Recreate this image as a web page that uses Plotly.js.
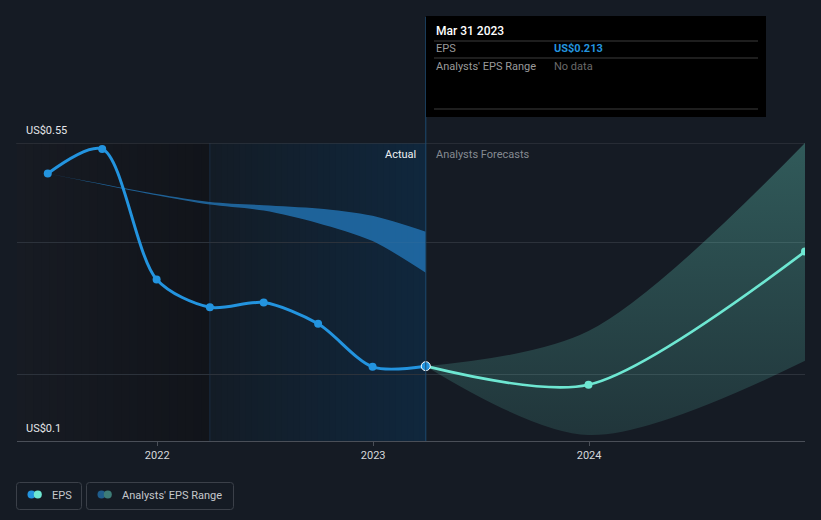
<!DOCTYPE html>
<html>
<head>
<meta charset="utf-8">
<script src="https://cdn.plot.ly/plotly-3.0.1.min.js"></script>
<style>
html,body{margin:0;padding:0;background:#151b24;}
#chart{width:821px;height:520px;}
</style>
</head>
<body>
<div id="chart"></div>
<script>
// ---- data ----
const actualDates = ['2021-06-30','2021-09-30','2021-12-31','2022-03-31','2022-06-30','2022-09-30','2022-12-31','2023-03-31'];
const actualEps   = [0.504, 0.541, 0.344, 0.302, 0.309, 0.277, 0.212, 0.213];

const pastRangeDates = ['2021-06-30','2021-12-31','2022-03-31','2022-06-30','2022-09-30','2022-12-31','2023-03-31'];
const pastRangeHigh  = [0.504, 0.473, 0.461, 0.456, 0.451, 0.440, 0.416];
const pastRangeLow   = [0.504, 0.471, 0.457, 0.448, 0.429, 0.402, 0.354];

const forecastDates = ['2023-03-31','2023-12-31','2024-12-31'];
const forecastEps   = [0.213, 0.185, 0.386];
const forecastHigh  = [0.213, 0.266, 0.550];
const forecastLow   = [0.213, 0.109, 0.221];

const xTickVals = ['2022-01-01','2023-01-01','2024-01-01'];
const xTickText = ['2022','2023','2024'];
const yLabels = [{v:0.55, t:'US$0.55'}, {v:0.1, t:'US$0.1'}];
const yGrid = [0.2, 0.4];

const xRange = ['2021-05-09','2024-12-31'];
const yRange = [0.1, 0.55];
const pastYearStart = '2022-03-31';
const lastActual = '2023-03-31';

// ---- geometry helpers (pixel -> paper) ----
const L=17, R=805, T=143, B=441;
const px = x => (x-L)/(R-L);
const py = y => (B-y)/(B-T);

const FONT = 'Roboto, "Open Sans", sans-serif';
const BLUE = '#2394df';
const TEAL = '#6ee7d2';

function toDateStr(ms){ return new Date(ms).toISOString().replace('T',' ').replace('Z','').slice(0,19); }
function lerp(a,b,t){return a+(b-a)*t;}
function hex(c){return '#'+c.map(v=>Math.round(v).toString(16).padStart(2,'0')).join('');}

// gradient background strips (style only)
const shapes = [];
const DAY = 86400000;
function gradientRegion(d0, d1, c0, c1, n){
  const a = new Date(d0+'T00:00:00Z').getTime(), b = new Date(d1+'T00:00:00Z').getTime();
  for(let i=0;i<n;i++){
    const t=(i+0.5)/n;
    const e = (i===n-1) ? b : lerp(a,b,(i+1)/n)+3*DAY;
    shapes.push({type:'rect', layer:'below', xref:'x', yref:'paper',
      x0:toDateStr(lerp(a,b,i/n)), x1:toDateStr(e), y0:0, y1:1,
      line:{width:0}, fillcolor:hex([lerp(c0[0],c1[0],t),lerp(c0[1],c1[1],t),lerp(c0[2],c1[2],t)])});
  }
}
gradientRegion(xRange[0], pastYearStart, [23,27,35], [17,20,26], 24);
gradientRegion(pastYearStart, lastActual, [19,28,38], [16,39,61], 36);

// vertical line at past-year start
shapes.push({type:'line', layer:'below', xref:'x', yref:'paper', x0:pastYearStart, x1:pastYearStart, y0:0, y1:1,
  line:{color:'#1a2d42', width:1}});
// top border line (0.55)
shapes.push({type:'line', layer:'below', xref:'paper', yref:'y', x0:-0.001, x1:1, y0:0.55, y1:0.55,
  line:{color:'#3a3f47', width:1}});
// vertical "now" line up to tooltip
shapes.push({type:'line', layer:'above', xref:'x', yref:'paper', x0:lastActual, x1:lastActual, y0:0, y1:py(17),
  line:{color:'#1d4a70', width:1}});
// tooltip box
shapes.push({type:'rect', layer:'above', xref:'paper', yref:'paper', x0:px(426), x1:px(766), y0:py(117), y1:py(16),
  line:{width:0}, fillcolor:'#000000'});
[41,58,109].forEach(y=>shapes.push({type:'line', layer:'above', xref:'paper', yref:'paper',
  x0:px(434), x1:px(758), y0:py(y), y1:py(y), line:{color:'#3c3c3c', width:1}}));

// legend boxes
function roundRect(x0,y0,x1,y1,r){
  const X=v=>px(v), Y=v=>py(v);
  return `M ${X(x0+r)},${Y(y0)} L ${X(x1-r)},${Y(y0)} Q ${X(x1)},${Y(y0)} ${X(x1)},${Y(y0+r)} L ${X(x1)},${Y(y1-r)} Q ${X(x1)},${Y(y1)} ${X(x1-r)},${Y(y1)} L ${X(x0+r)},${Y(y1)} Q ${X(x0)},${Y(y1)} ${X(x0)},${Y(y1-r)} L ${X(x0)},${Y(y0+r)} Q ${X(x0)},${Y(y0)} ${X(x0+r)},${Y(y0)} Z`;
}
shapes.push({type:'path', layer:'above', xref:'paper', yref:'paper', path:roundRect(16.5,482.5,81.5,509.5,3), line:{color:'#3b4049', width:1}});
shapes.push({type:'path', layer:'above', xref:'paper', yref:'paper', path:roundRect(86.5,482.5,233.5,509.5,3), line:{color:'#3b4049', width:1}});
function dot(cx,cy,r,color){
  shapes.push({type:'circle', layer:'above', xref:'paper', yref:'paper', x0:px(cx-r), x1:px(cx+r), y0:py(cy+r), y1:py(cy-r),
    line:{width:0}, fillcolor:color});
}
dot(31.5,494.5,4,BLUE); dot(37.8,494.5,4,TEAL);
dot(101.5,494.5,4,'#1f5d8c'); dot(107.8,494.5,4,'#3d7c77');

const annotations = [];
function txt(x,y,text,opts){
  annotations.push(Object.assign({xref:'paper', yref:'paper', x:px(x), y:py(y), text:text, showarrow:false,
    xanchor:'left', yanchor:'middle', font:{family:FONT, size:11, color:'#c8cbd0'}}, opts||{}));
}
yLabels.forEach(l=>{
  const yPix = B - (l.v-yRange[0])/(yRange[1]-yRange[0])*(B-T);
  txt(24, yPix-12.5, l.t, {font:{family:FONT,size:11,color:'#e4e6e9'}});
});
txt(418,154,'Actual',{xanchor:'right', font:{family:FONT,size:11,color:'#eef0f2'}});
txt(434,154,'Analysts Forecasts',{font:{family:FONT,size:11,color:'#858a91'}});
txt(434,31,'Mar 31 2023',{font:{family:FONT,size:12,color:'#ffffff', weight:500}});
txt(434,48.5,'EPS',{font:{family:FONT,size:11,color:'#9a9a9a'}});
txt(552,48.5,'<b>US$'+actualEps[actualEps.length-1].toFixed(3)+'</b>',{font:{family:FONT,size:11,color:BLUE}});
txt(434,66,"Analysts' EPS Range",{font:{family:FONT,size:11,color:'#9a9a9a'}});
txt(552,66,'No data',{font:{family:FONT,size:11,color:'#6a6a6a'}});
txt(50,495,'EPS',{font:{family:FONT,size:11,color:'#c5c8cc'}});
txt(120,495,"Analysts' EPS Range",{font:{family:FONT,size:11,color:'#c5c8cc'}});

const traces = [
  {x:pastRangeDates, y:pastRangeLow, mode:'lines', line:{width:0, shape:'spline', smoothing:0.8}, hoverinfo:'skip', showlegend:false},
  {x:pastRangeDates, y:pastRangeHigh, mode:'lines', line:{width:0, shape:'spline', smoothing:0.8}, fill:'tonexty',
   fillcolor:'rgba(35,121,189,0.75)', hoverinfo:'skip', showlegend:false},
  {x:forecastDates, y:forecastLow, mode:'lines', line:{width:0, shape:'spline', smoothing:0.9}, hoverinfo:'skip', showlegend:false},
  {x:forecastDates, y:forecastHigh, mode:'lines', line:{width:0, shape:'spline', smoothing:0.9}, fill:'tonexty',
   fillgradient:{type:'vertical', colorscale:[[0,'rgba(110,231,210,0.13)'],[1,'rgba(110,231,210,0.31)']]},
   fillcolor:'rgba(110,231,210,0.2)', hoverinfo:'skip', showlegend:false},
  {x:forecastDates, y:forecastEps, mode:'lines+markers', line:{color:TEAL, width:2.7, shape:'spline', smoothing:0.8},
   marker:{color:TEAL, size:8}, showlegend:false},
  {x:actualDates, y:actualEps, mode:'lines+markers', line:{color:BLUE, width:3, shape:'spline', smoothing:0.85},
   marker:{color:BLUE, size:8}, showlegend:false},
  {x:[actualDates[actualDates.length-1]], y:[actualEps[actualEps.length-1]], mode:'markers',
   marker:{color:BLUE, size:9, line:{color:'#ffffff', width:1}}, showlegend:false}
];

const layout = {
  width:821, height:520,
  margin:{l:L, r:821-R, t:T, b:520-B},
  paper_bgcolor:'#151b24', plot_bgcolor:'#151b24',
  showlegend:false,
  xaxis:{type:'date', range:xRange, tickvals:xTickVals, ticktext:xTickText, ticks:'outside', ticklen:4,
    tickcolor:'#4a4f58', showline:true, linecolor:'#4a4f58', linewidth:1, showgrid:false, zeroline:false,
    tickfont:{family:FONT, size:11, color:'#d6d8db'}, fixedrange:true},
  yaxis:{range:yRange, tickvals:yGrid, showticklabels:false, ticks:'', gridcolor:'#2c323b', gridwidth:1,
    zeroline:false, showline:false, fixedrange:true},
  shapes:shapes, annotations:annotations,
  font:{family:FONT}
};

Plotly.newPlot('chart', traces, layout, {displayModeBar:false, staticPlot:true});
</script>
</body>
</html>
